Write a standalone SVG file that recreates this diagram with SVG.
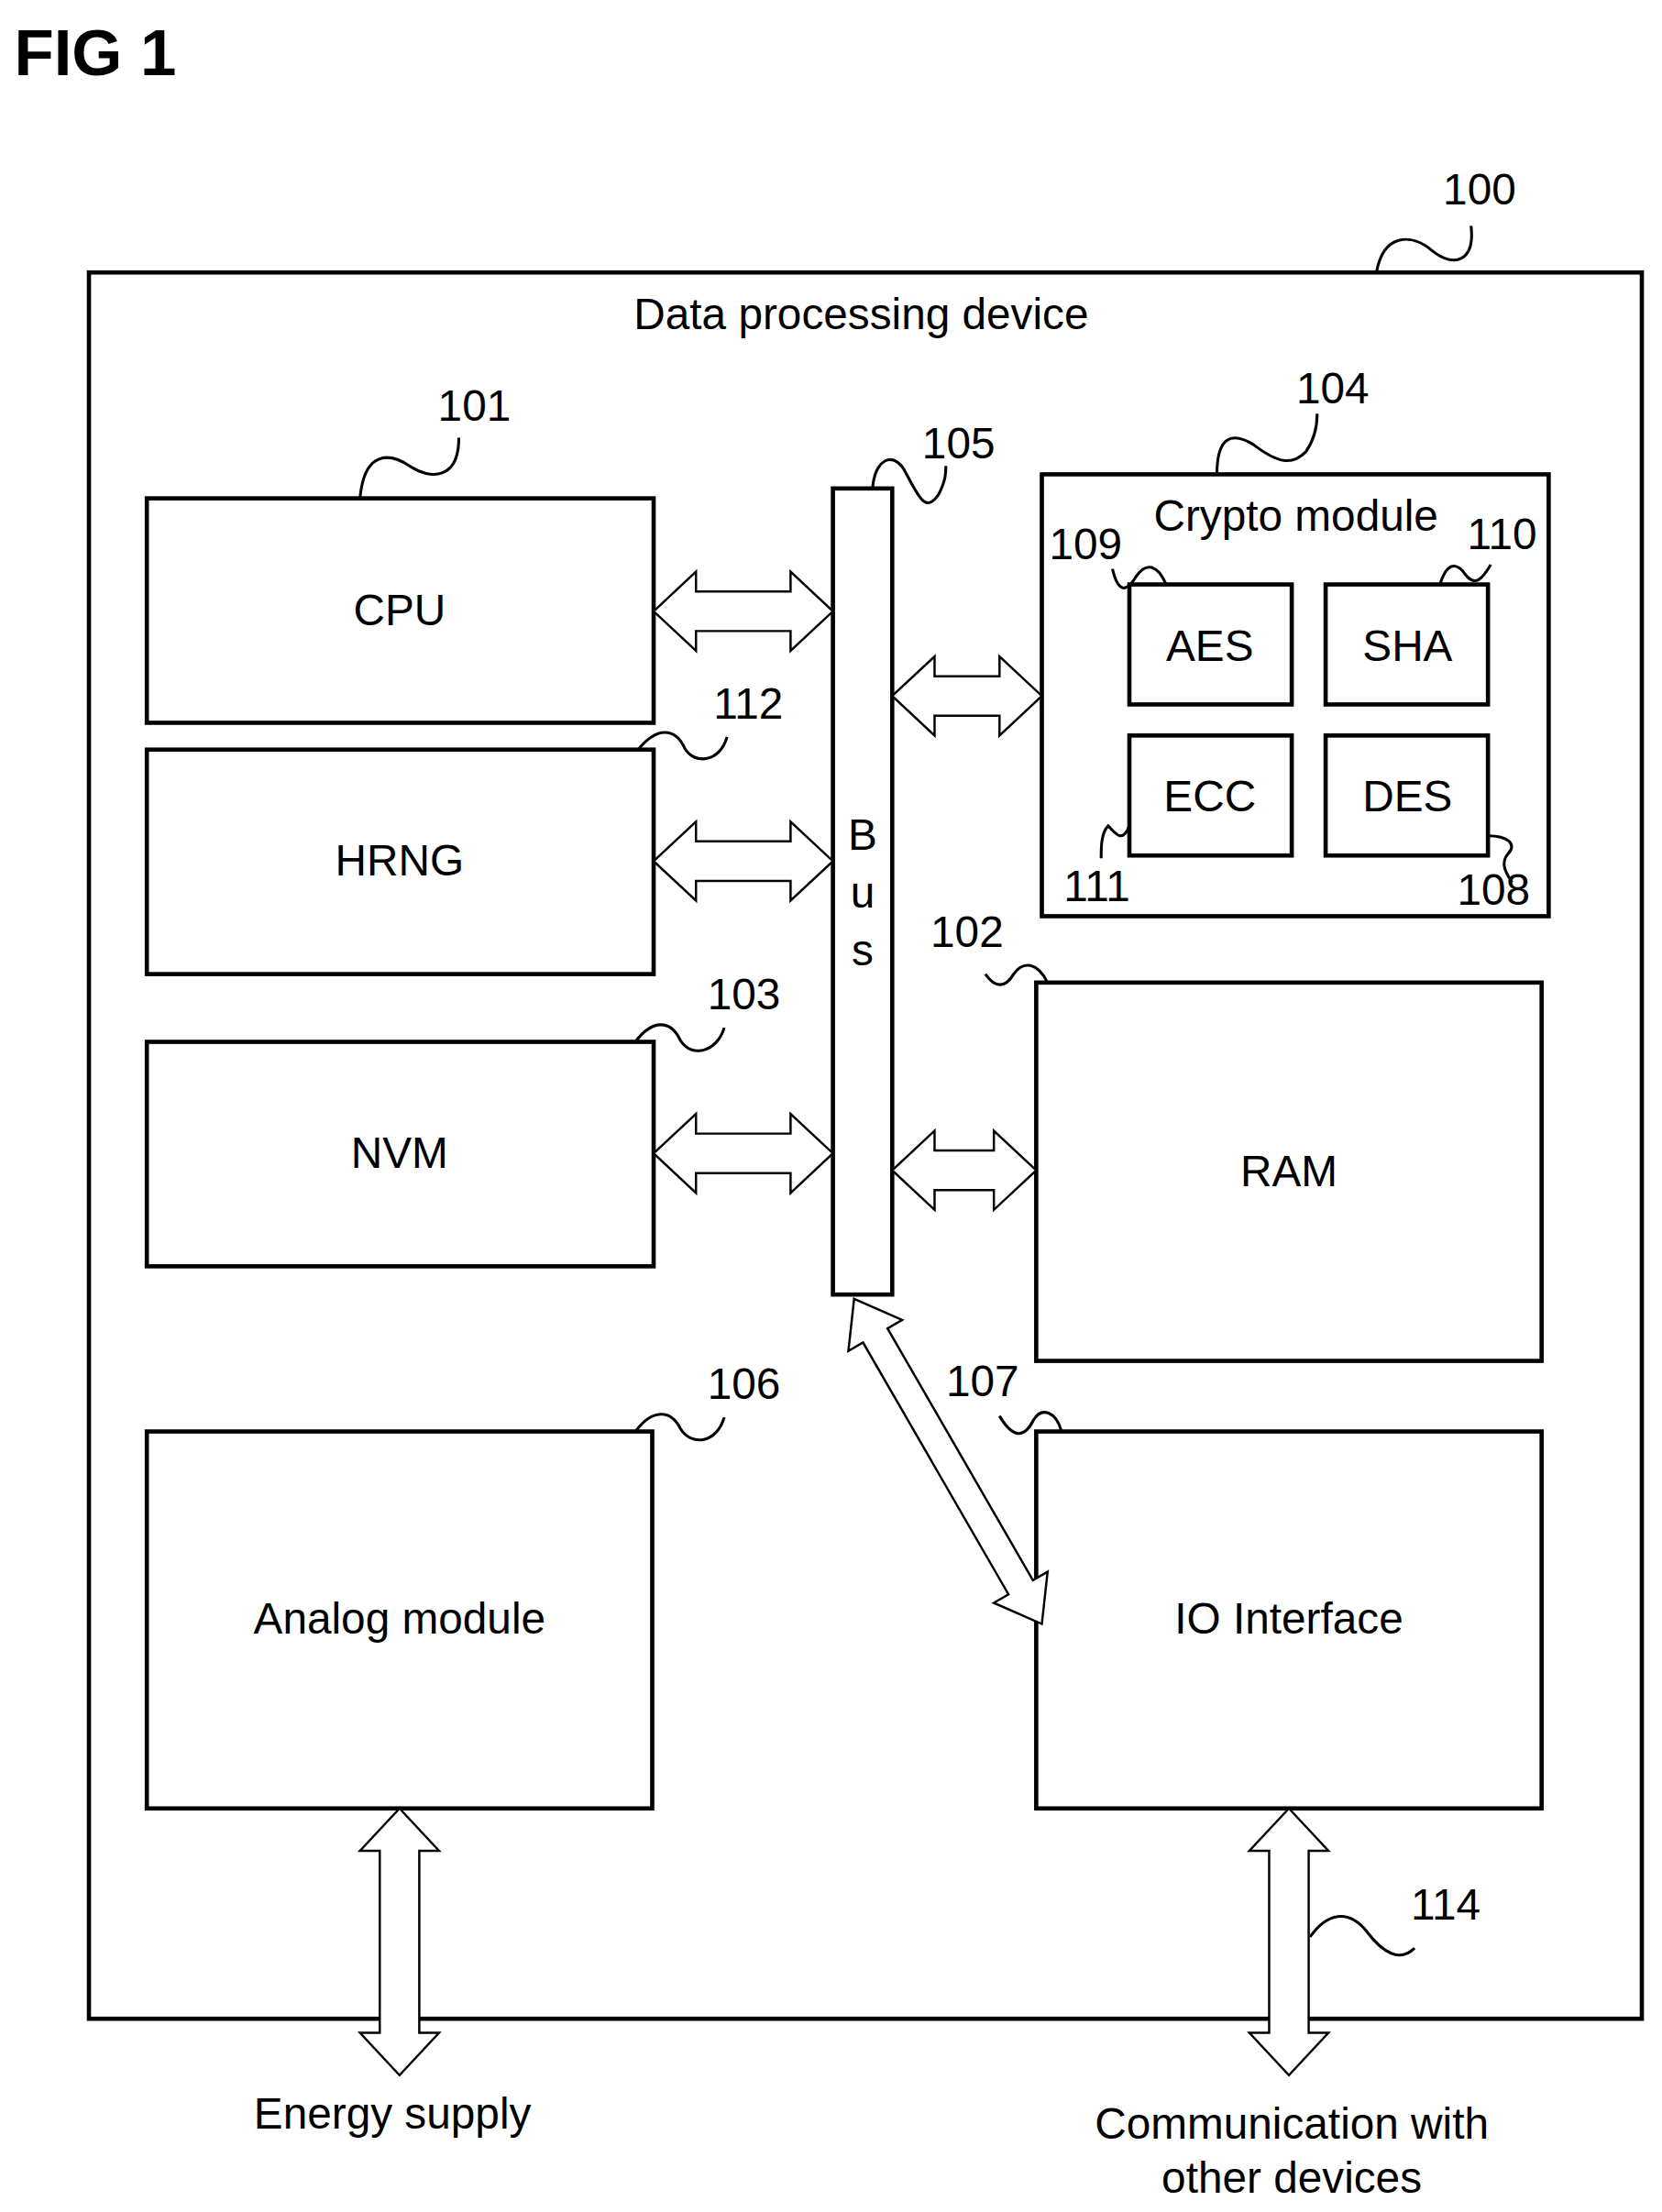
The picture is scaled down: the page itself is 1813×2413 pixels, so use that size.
<svg xmlns="http://www.w3.org/2000/svg" width="1813" height="2413" viewBox="0 0 1813 2413">
<style>
.b{fill:#fff;stroke:#000;stroke-width:3}
.t{font-family:"Liberation Sans",Arial,sans-serif;font-size:31px;text-anchor:middle;fill:#000}
.a{fill:#fff;stroke:#000;stroke-width:1.6}
.s{fill:none;stroke:#000;stroke-width:2}
</style>
<rect width="1813" height="2413" fill="#fff"/>
<g transform="scale(1.540)">
<text x="10" y="53" style="font-family:'Liberation Sans',Arial,sans-serif;font-size:46px;font-weight:bold">FIG 1</text>
<g id="device">
<rect class="b" x="63" y="193" width="1100" height="1237"/>
<text class="t" x="610" y="233">Data processing device</text>
<text class="t" x="1048" y="145">100</text>
<path class="s" d="M975 193 C980 165 1000 165 1015 178 C1030 190 1045 185 1042 160"/>
</g>
<g id="cpu"><rect class="b" x="104" y="353" width="359" height="159"/><text class="t" x="283" y="443">CPU</text>
<text class="t" x="336" y="298">101</text><path class="s" d="M255 353 C258 320 275 320 290 330 C305 340 325 340 325 310"/></g>
<g id="hrng"><rect class="b" x="104" y="531" width="359" height="159"/><text class="t" x="283" y="620">HRNG</text>
<text class="t" x="530" y="509">112</text><path class="s" d="M452 531 C465 515 478 515 485 530 C492 542 510 540 515 522"/></g>
<g id="nvm"><rect class="b" x="104" y="738" width="359" height="159"/><text class="t" x="283" y="827">NVM</text>
<text class="t" x="527" y="715">103</text><path class="s" d="M450 738 C462 722 475 722 482 737 C490 750 508 745 513 728"/></g>
<g id="bus"><rect class="b" x="590" y="346" width="42" height="571"/>
<text class="t" x="611" y="602">B</text><text class="t" x="611" y="643">u</text><text class="t" x="611" y="684">s</text>
<text class="t" x="679" y="325">105</text><path class="s" d="M618 346 C620 325 632 320 640 332 C650 350 655 365 665 350 C670 340 670 335 670 330"/></g>
<g id="crypto"><rect class="b" x="738" y="336" width="359" height="313"/><text class="t" x="918" y="376">Crypto module</text>
<text class="t" x="944" y="286">104</text><path class="s" d="M862 336 C862 310 872 305 888 315 C905 328 915 330 925 320 C932 310 933 300 933 293"/>
<rect class="b" x="800" y="414" width="115" height="85"/><text class="t" x="857" y="468">AES</text>
<rect class="b" x="939" y="414" width="115" height="85"/><text class="t" x="997" y="468">SHA</text>
<rect class="b" x="800" y="521" width="115" height="85"/><text class="t" x="857" y="575">ECC</text>
<rect class="b" x="939" y="521" width="115" height="85"/><text class="t" x="997" y="575">DES</text>
<text class="t" x="769" y="396">109</text><path class="s" d="M826 414 C820 400 812 398 805 408 C798 420 792 420 788 403"/>
<text class="t" x="1064" y="389">110</text><path class="s" d="M1020 414 C1025 398 1032 398 1038 407 C1045 416 1050 410 1056 400"/>
<text class="t" x="777" y="638">111</text><path class="s" d="M800 585 C795 598 790 590 785 585 C780 590 780 600 780 608"/>
<text class="t" x="1058" y="641">108</text><path class="s" d="M1054 592 C1068 592 1075 598 1068 605 C1062 612 1068 620 1071 625"/>
</g>
<g id="ram"><rect class="b" x="734" y="696" width="358" height="268"/><text class="t" x="913" y="840">RAM</text>
<text class="t" x="685" y="671">102</text><path class="s" d="M742 696 C735 682 725 680 718 690 C712 700 705 700 698 690"/></g>
<g id="io"><rect class="b" x="734" y="1014" width="358" height="267"/><text class="t" x="913" y="1157">IO Interface</text>
<text class="t" x="696" y="989">107</text><path class="s" d="M752 1014 C748 1000 738 996 732 1006 C726 1018 718 1020 708 1003"/></g>
<g id="analog"><rect class="b" x="104" y="1014" width="358" height="267"/><text class="t" x="283" y="1157">Analog module</text>
<text class="t" x="527" y="991">106</text><path class="s" d="M450 1014 C462 998 475 998 482 1012 C490 1025 508 1022 513 1004"/></g>
<text class="t" x="278" y="1508">Energy supply</text>
<text class="t" x="915" y="1515">Communication with</text>
<text class="t" x="915" y="1553">other devices</text>
<text class="t" x="1024" y="1360">114</text>
<g id="connectors">
<path class="a" d="M463 433 L493 405 L493 419 L560 419 L560 405 L590 433 L560 461 L560 447 L493 447 L493 461Z"/>
<path class="a" d="M463 610 L493 582 L493 596 L560 596 L560 582 L590 610 L560 638 L560 624 L493 624 L493 638Z"/>
<path class="a" d="M463 817 L493 789 L493 803 L560 803 L560 789 L590 817 L560 845 L560 831 L493 831 L493 845Z"/>
<path class="a" d="M632 493 L662 465 L662 479 L708 479 L708 465 L738 493 L708 521 L708 507 L662 507 L662 521Z"/>
<path class="a" d="M632 829 L662 801 L662 815 L704 815 L704 801 L734 829 L704 857 L704 843 L662 843 L662 857Z"/>
<path class="a" transform="translate(605 920) rotate(60)" d="M0 0 L30 -22 L30 -10 L236 -10 L236 -22 L266 0 L236 22 L236 10 L30 10 L30 22Z"/>
<path class="a" d="M283 1281 L311 1311 L297 1311 L297 1440 L311 1440 L283 1470 L255 1440 L269 1440 L269 1311 L255 1311Z"/>
<path class="a" d="M913 1281 L941 1311 L927 1311 L927 1440 L941 1440 L913 1470 L885 1440 L899 1440 L899 1311 L885 1311Z"/>
<path class="s" d="M928 1372 C940 1355 955 1352 968 1368 C980 1384 992 1390 1002 1380"/>
</g>
</g>
</svg>
